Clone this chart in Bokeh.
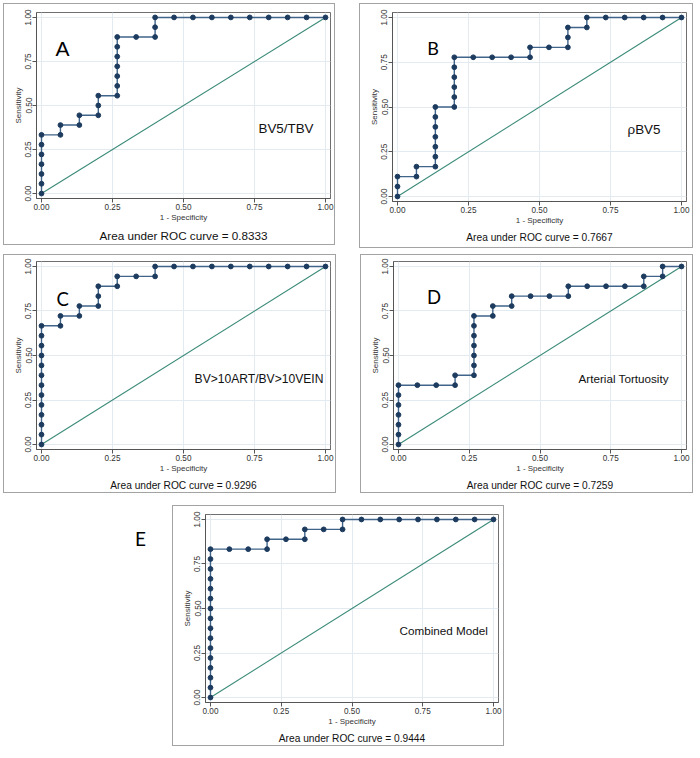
from bokeh.plotting import figure
from bokeh.layouts import row, column
from bokeh.models import Range1d, FixedTicker, Label, PrintfTickFormatter, Title
from bokeh.embed import file_html
from bokeh.resources import INLINE

# ---------------- data ----------------
FPR_A = [0, 0, 0, 0, 0, 0, 0, 0.0667, 0.0667, 0.1333, 0.1333, 0.2, 0.2, 0.2,
         0.2667, 0.2667, 0.2667, 0.2667, 0.2667, 0.2667, 0.2667, 0.3333, 0.4, 0.4, 0.4,
         0.4667, 0.5333, 0.6, 0.6667, 0.7333, 0.8, 0.8667, 0.9333, 1.0]
TPR_A = [0, 0.0556, 0.1111, 0.1667, 0.2222, 0.2778, 0.3333, 0.3333, 0.3889, 0.3889, 0.4444,
         0.4444, 0.5, 0.5556, 0.5556, 0.6111, 0.6667, 0.7222, 0.7778, 0.8333, 0.8889, 0.8889,
         0.8889, 0.9444, 1.0, 1.0, 1.0, 1.0, 1.0, 1.0, 1.0, 1.0, 1.0, 1.0]

FPR_B = [0, 0, 0, 0.0667, 0.0667, 0.1333, 0.1333, 0.1333, 0.1333, 0.1333, 0.1333, 0.1333,
         0.2, 0.2, 0.2, 0.2, 0.2, 0.2, 0.2667, 0.3333, 0.4, 0.4667, 0.4667, 0.5333, 0.6, 0.6,
         0.6, 0.6667, 0.6667, 0.7333, 0.8, 0.8667, 0.9333, 1.0]
TPR_B = [0, 0.0556, 0.1111, 0.1111, 0.1667, 0.1667, 0.2222, 0.2778, 0.3333, 0.3889, 0.4444,
         0.5, 0.5, 0.5556, 0.6111, 0.6667, 0.7222, 0.7778, 0.7778, 0.7778, 0.7778, 0.7778,
         0.8333, 0.8333, 0.8333, 0.8889, 0.9444, 0.9444, 1.0, 1.0, 1.0, 1.0, 1.0, 1.0]

FPR_C = [0, 0, 0, 0, 0, 0, 0, 0, 0, 0, 0, 0, 0, 0.0667, 0.0667, 0.1333, 0.1333, 0.2, 0.2,
         0.2, 0.2667, 0.2667, 0.3333, 0.4, 0.4, 0.4667, 0.5333, 0.6, 0.6667, 0.7333, 0.8,
         0.8667, 0.9333, 1.0]
TPR_C = [0, 0.0556, 0.1111, 0.1667, 0.2222, 0.2778, 0.3333, 0.3889, 0.4444, 0.5, 0.5556,
         0.6111, 0.6667, 0.6667, 0.7222, 0.7222, 0.7778, 0.7778, 0.8333, 0.8889, 0.8889,
         0.9444, 0.9444, 0.9444, 1.0, 1.0, 1.0, 1.0, 1.0, 1.0, 1.0, 1.0, 1.0, 1.0]

FPR_D = [0, 0, 0, 0, 0, 0, 0, 0.0667, 0.1333, 0.2, 0.2, 0.2667, 0.2667, 0.2667, 0.2667,
         0.2667, 0.2667, 0.2667, 0.3333, 0.3333, 0.4, 0.4, 0.4667, 0.5333, 0.6, 0.6, 0.6667,
         0.7333, 0.8, 0.8667, 0.8667, 0.9333, 0.9333, 1.0]
TPR_D = [0, 0.0556, 0.1111, 0.1667, 0.2222, 0.2778, 0.3333, 0.3333, 0.3333, 0.3333, 0.3889,
         0.3889, 0.4444, 0.5, 0.5556, 0.6111, 0.6667, 0.7222, 0.7222, 0.7778, 0.7778, 0.8333,
         0.8333, 0.8333, 0.8333, 0.8889, 0.8889, 0.8889, 0.8889, 0.8889, 0.9444, 0.9444, 1.0,
         1.0]

FPR_E = [0, 0, 0, 0, 0, 0, 0, 0, 0, 0, 0, 0, 0, 0, 0, 0, 0.0667, 0.1333, 0.2, 0.2, 0.2667,
         0.3333, 0.3333, 0.4, 0.4667, 0.4667, 0.5333, 0.6, 0.6667, 0.7333, 0.8, 0.8667,
         0.9333, 1.0]
TPR_E = [0, 0.0556, 0.1111, 0.1667, 0.2222, 0.2778, 0.3333, 0.3889, 0.4444, 0.5, 0.5556,
         0.6111, 0.6667, 0.7222, 0.7778, 0.8333, 0.8333, 0.8333, 0.8333, 0.8889, 0.8889,
         0.8889, 0.9444, 0.9444, 0.9444, 1.0, 1.0, 1.0, 1.0, 1.0, 1.0, 1.0, 1.0, 1.0]

REF_LINE = [0.0, 1.0]
TICKS = [0, 0.25, 0.5, 0.75, 1.0]
LETTERS = ["A", "B", "C", "D", "E"]
NAMES = ["BV5/TBV", "ρBV5", "BV>10ART/BV>10VEIN", "Arterial Tortuosity", "Combined Model"]
AUCS = ["0.8333", "0.7667", "0.9296", "0.7259", "0.9444"]
X_LABEL = "1 - Specificity"
Y_LABEL = "Sensitivity"
CAPTION = "Area under ROC curve = "

# ---------------- layout / style ----------------
PADX, PADY = 0.0176, 0.028
BORDER = 1
ROC_LINE = "#40648a"
ROC_MARK = "#1c3b5e"
DIAG = "#3a8a78"
GRID = "#e4ebf0"
FONT = "Liberation Sans"

# panel box size (w, h) and frame insets (left, right, top, bottom) in px
GEOM = {
    "A": dict(size=(334, 244), inset=(33, 7, 9, 48)),
    "B": dict(size=(336, 247), inset=(33, 9, 9, 49)),
    "C": dict(size=(335, 241), inset=(33, 8, 7, 46)),
    "D": dict(size=(335, 241), inset=(33, 9, 7, 45)),
    "E": dict(size=(334, 243), inset=(33, 8, 9, 46)),
}
LETTER_CFG = {
    "A": (0.049, 0.824, FONT, "21px"),
    "B": (0.105, 0.830, "Lato", "18px"),
    "C": (0.053, 0.820, "Lato", "18.5px"),
    "D": (0.101, 0.827, "Lato", "18.5px"),
}
NAME_CFG = {
    "A": (0.764, 0.367, "13.4px"),
    "B": (0.810, 0.375, "13.4px"),
    "C": (0.539, 0.370, "12.1px"),
    "D": (0.636, 0.371, "11.7px"),
    "E": (0.668, 0.374, "11.7px"),
}
# caption: horizontal offset from frame centre (px), standoff, font size
CAP_CFG = {
    "A": (9, 4, "11.7px"),
    "B": (0, 4, "10.2px"),
    "C": (0, 4, "10.2px"),
    "D": (1, 4, "10.2px"),
    "E": (-2, 4, "10.2px"),
}


def panel(key, fpr, tpr, name, auc):
    g = GEOM[key]
    W, H = g["size"]
    il, ir, it, ib = g["inset"]
    p = figure(width=W - 2 * BORDER, height=H - 2 * BORDER,
               x_range=Range1d(-PADX, 1 + PADX), y_range=Range1d(-PADY, 1 + PADY),
               output_backend="svg", toolbar_location=None,
               min_border_left=il - BORDER, min_border_right=ir - BORDER,
               min_border_top=it - BORDER, min_border_bottom=ib - BORDER,
               background_fill_color="white", border_fill_color="white",
               outline_line_color="#6f6f6f", outline_line_width=1,
               styles={"border": "%dpx solid #a3a3a3" % BORDER})
    for ax in (p.xaxis[0], p.yaxis[0]):
        ax.ticker = FixedTicker(ticks=TICKS)
        ax.formatter = PrintfTickFormatter(format="%.2f")
        ax.major_tick_out = 4
        ax.major_tick_in = 0
        ax.minor_tick_line_color = None
        ax.major_tick_line_color = "#555555"
        ax.axis_line_color = "#555555"
        ax.major_label_text_font = FONT
        ax.major_label_text_font_size = "8.2px"
        ax.major_label_text_color = "#333333"
        ax.major_label_standoff = 1
        ax.axis_label_text_font = FONT
        ax.axis_label_text_font_size = "8px"
        ax.axis_label_text_font_style = "normal"
        ax.axis_label_text_color = "#333333"
        ax.axis_label_standoff = 0
    p.xaxis.axis_label = X_LABEL
    p.yaxis.axis_label = Y_LABEL
    p.yaxis.major_label_orientation = "vertical"
    p.xgrid.ticker = FixedTicker(ticks=TICKS)
    p.ygrid.ticker = FixedTicker(ticks=TICKS)
    p.xgrid.grid_line_color = GRID
    p.ygrid.grid_line_color = GRID

    p.line(REF_LINE, REF_LINE, line_color=DIAG, line_width=1.1)
    p.line(fpr, tpr, line_color=ROC_LINE, line_width=1.4)
    p.scatter(fpr, tpr, size=4.8, fill_color=ROC_MARK, line_color=ROC_MARK)

    if key in LETTER_CFG:
        lx, ly, lf, ls = LETTER_CFG[key]
        p.add_layout(Label(x=lx, y=ly, text=key, text_font=lf, text_font_size=ls,
                           text_align="left", text_baseline="alphabetic", text_color="black"))
    nx, ny, ns = NAME_CFG[key]
    p.add_layout(Label(x=nx, y=ny, text=name, text_font=FONT, text_font_size=ns,
                       text_align="left", text_baseline="middle", text_color="#111111"))
    co, cs_, cf = CAP_CFG[key]
    p.add_layout(Title(text=CAPTION + auc, align="center", offset=co, standoff=cs_,
                       text_font=FONT, text_font_size=cf, text_font_style="normal",
                       text_color="#111111"), "below")
    return p


pA = panel("A", FPR_A, TPR_A, NAMES[0], AUCS[0])
pB = panel("B", FPR_B, TPR_B, NAMES[1], AUCS[1])
pC = panel("C", FPR_C, TPR_C, NAMES[2], AUCS[2])
pD = panel("D", FPR_D, TPR_D, NAMES[3], AUCS[3])
pE = panel("E", FPR_E, TPR_E, NAMES[4], AUCS[4])

# letter "E" sits outside the last panel, to its left
EW, EH = 169, 243
pL = figure(width=EW, height=EH, x_range=Range1d(0, EW), y_range=Range1d(0, EH),
            output_backend="svg", toolbar_location=None, x_axis_type=None, y_axis_type=None,
            min_border=0, outline_line_color=None, background_fill_color="white",
            border_fill_color="white")
pL.xgrid.visible = False
pL.ygrid.visible = False
pL.add_layout(Label(x=137, y=EH - 32, text=LETTERS[4], text_font="Lato", text_font_size="19px",
                    text_align="center", text_baseline="middle", text_color="black"))

top = row(pA, pB, spacing=24)
mid = row(pC, pD, spacing=24, margin=(6, 0, 0, 0))
bot = row(pL, pE, spacing=0, margin=(12, 0, 0, 0))
layout = column(top, mid, bot, margin=(3, 0, 0, 3))

open("out.html", "w").write(file_html(layout, INLINE))
